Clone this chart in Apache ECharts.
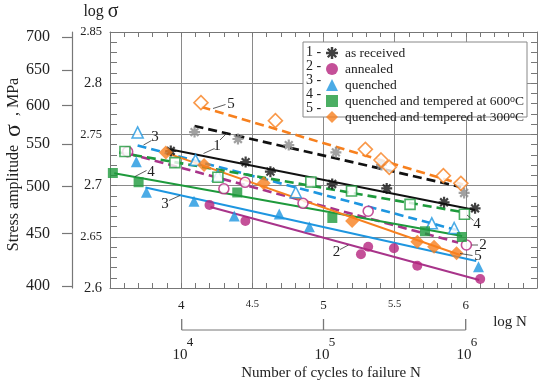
<!DOCTYPE html>
<html><head><meta charset="utf-8">
<script src="https://cdn.jsdelivr.net/npm/echarts@6/dist/echarts.min.js"></script>
<style>html,body{margin:0;padding:0;background:#fff}#c{width:550px;height:385px}</style>
</head><body><div id="c"></div>
<script>
// Data: [log N, log sigma]
const asReceivedFilled = [[3.927,2.7338],[4.453,2.7230],[4.627,2.7136],[5.061,2.7016],[5.444,2.6972],[5.847,2.6837],[6.065,2.6778]];
const asReceivedOpen = [[4.094,2.7523],[4.399,2.7455],[4.756,2.7396],[5.087,2.7325],[5.407,2.7201],[5.988,2.6928]];
const asReceivedSolidLine = [[3.918,2.7354],[6.065,2.6762]];
const asReceivedDashedLine = [[4.094,2.7582],[5.967,2.6986]];

const annealedFilled = [[4.199,2.6811],[4.451,2.6654],[5.263,2.6329],[5.314,2.6403],[5.495,2.6388],[5.659,2.6218],[6.101,2.6088]];
const annealedOpen = [[3.624,2.7331],[4.300,2.6969],[4.449,2.7032],[4.856,2.6827],[5.314,2.6750],[6.004,2.6420]];
const annealedSolidLine = [[4.206,2.6791],[6.094,2.6078]];
const annealedDashedLine = [[3.624,2.7315],[5.946,2.6444]];

const quenchedFilled = [[3.685,2.7233],[3.756,2.6935],[4.090,2.6847],[4.373,2.6703],[4.689,2.6723],[4.901,2.6599],[6.089,2.6208]];
const quenchedOpen = [[3.694,2.7519],[4.101,2.7250],[4.258,2.7099],[4.805,2.6935],[5.761,2.6632],[5.918,2.6586]];
const quenchedSolidLine = [[3.749,2.6981],[6.073,2.6264]];
const quenchedDashedLine = [[3.694,2.7392],[5.937,2.6566]];

const qt600Filled = [[3.520,2.7123],[3.701,2.7033],[4.394,2.6933],[5.062,2.6684],[5.713,2.6554],[5.972,2.6498]];
const qt600Open = [[3.605,2.7333],[3.956,2.7224],[4.258,2.7081],[4.911,2.7035],[5.197,2.6947],[5.608,2.6817],[5.990,2.6720]];
const qt600SolidLine = [[3.530,2.7120],[5.974,2.6508]];
const qt600DashedLine = [[3.565,2.7323],[5.974,2.6742]];

const qt300Filled = [[3.892,2.7323],[4.161,2.7201],[4.580,2.7022],[5.201,2.6654],[5.659,2.6452],[5.777,2.6403],[5.935,2.6339]];
const qt300Open = [[4.139,2.7810],[4.662,2.7634],[5.294,2.7354],[5.404,2.7250],[5.462,2.7179],[5.842,2.7097],[5.965,2.7022]];
const qt300SolidLine = [[3.906,2.7315],[5.960,2.6322]];
const qt300DashedLine = [[4.143,2.7768],[5.981,2.7010]];

const stressTicks = [400,450,500,550,600,650,700];
const logNTicks = [4,4.5,5,5.5,6];
const logSigmaTicks = [2.6,2.65,2.7,2.75,2.8,2.85];
const legendNames = ['as received','annealed','quenched','quenched and tempered at 600°C','quenched and tempered at 300°C'];

const SERIF = '"Liberation Serif","Times New Roman",serif';
function asteriskPath(){
  let d=''; const w=0.2;
  for (const a of [0,45,90,135]) {
    const r=a*Math.PI/180, c=Math.cos(r), s=Math.sin(r);
    const pts=[[-1,-w],[1,-w],[1,w],[-1,w]].map(([x,y])=>[x*c-y*s, x*s+y*c]);
    d+='M'+pts.map(p=>p[0].toFixed(3)+' '+p[1].toFixed(3)).join(' L')+' Z ';
  }
  return 'path://'+d;
}
const AST = asteriskPath();

const groups = [
  {filled: asReceivedFilled, open: asReceivedOpen, solid: asReceivedSolidLine, dashed: asReceivedDashedLine,
   color:'#111111', openColor:'#8a8a8a', line:'#111111', symbol: AST, size: 11, openAsFilled:true},
  {filled: annealedFilled, open: annealedOpen, solid: annealedSolidLine, dashed: annealedDashedLine,
   color:'#B5247E', line:'#A8348A', symbol:'circle', size: 10},
  {filled: quenchedFilled, open: quenchedOpen, solid: quenchedSolidLine, dashed: quenchedDashedLine,
   color:'#1E96E0', line:'#1E96E0', symbol:'triangle', size: 11},
  {filled: qt600Filled, open: qt600Open, solid: qt600SolidLine, dashed: qt600DashedLine,
   color:'#1E9A3C', line:'#1E9A3C', symbol:'rect', size: 10},
  {filled: qt300Filled, open: qt300Open, solid: qt300SolidLine, dashed: qt300DashedLine,
   color:'#F7801E', line:'#F7801E', symbol:'diamond', size: 14}
];

const series = [];
groups.forEach((g,i)=>{
  series.push({type:'line', name:'solid'+i, data:g.solid, symbol:'none', silent:true, clip:false, z:2,
    lineStyle:{color:g.line, width:2, type:'solid'}});
  series.push({type:'line', name:'dashed'+i, data:g.dashed, symbol:'none', silent:true, clip:false, z:2,
    lineStyle:{color:g.line, width:2.6, type:[9,5]}});
});
groups.forEach((g,i)=>{
  series.push({type:'scatter', name:'open'+i, data:g.open, symbol:g.symbol, symbolSize:g.size, clip:false, z:3,
    itemStyle: g.openAsFilled ? {color:g.openColor} : {color:'#ffffff', borderColor:g.color, borderWidth:1.6}});
  series.push({type:'scatter', name:legendNames[i], data:g.filled, symbol:g.symbol, symbolSize:g.size, clip:false, z:4,
    itemStyle:{color:g.color}});
});

const gray = '#777';
const xAxisBase = {type:'value', min:3.5, max:6.5, interval:0.5};
const yAxisBase = {type:'value', min:2.6, max:2.85, interval:0.05};

const option = {
  animation:false,
  backgroundColor:'#fff',
  grid:{left:110, top:32, width:427, height:256, containLabel:false, outerBoundsMode:'none'},
  xAxis:[
    Object.assign({}, xAxisBase, {position:'bottom',
      axisLine:{show:true, lineStyle:{color:gray, width:1}},
      axisTick:{show:true, inside:true, length:5, lineStyle:{color:gray}},
      minorTick:{show:true, splitNumber:5, length:5, lineStyle:{color:gray}},
      splitLine:{show:true, lineStyle:{color:'#8a8a8a', width:1}},
      axisLabel:{customValues:logNTicks, margin:11, color:'#222',
        formatter: v => Math.abs(v-Math.round(v))<1e-6 ? '{b|'+v.toFixed(0)+'}' : '{s|'+v.toFixed(1)+'}',
        rich:{b:{fontFamily:SERIF, fontSize:13, color:'#222'}, s:{fontFamily:SERIF, fontSize:10.5, color:'#222'}}}
    }),
    Object.assign({}, xAxisBase, {position:'top',
      axisLine:{show:true, lineStyle:{color:gray, width:1}},
      axisTick:{show:true, inside:true, length:5, lineStyle:{color:gray}},
      minorTick:{show:true, splitNumber:5, length:5, lineStyle:{color:gray}},
      splitLine:{show:false}, axisLabel:{show:false}})
  ],
  yAxis:[
    Object.assign({}, yAxisBase, {position:'left',
      axisLine:{show:true, lineStyle:{color:gray, width:1}},
      axisTick:{show:true, inside:true, length:7, lineStyle:{color:gray}},
      minorTick:{show:true, splitNumber:5, length:7, lineStyle:{color:gray}},
      splitLine:{show:true, lineStyle:{color:'#8a8a8a', width:1}},
      axisLabel:{customValues:logSigmaTicks, margin:8, color:'#222',
        formatter: v => Math.abs(v*10-Math.round(v*10))<1e-6 ? '{b|'+v.toFixed(1)+'}' : '{s|'+v.toFixed(2)+'}',
        rich:{b:{fontFamily:SERIF, fontSize:14.5, color:'#222'}, s:{fontFamily:SERIF, fontSize:12.5, color:'#222'}}}
    }),
    Object.assign({}, yAxisBase, {position:'right',
      axisLine:{show:true, lineStyle:{color:gray, width:1}},
      axisTick:{show:true, inside:true, length:6, lineStyle:{color:gray}},
      minorTick:{show:true, splitNumber:5, length:6, lineStyle:{color:gray}},
      splitLine:{show:false}, axisLabel:{show:false}}),
    Object.assign({}, yAxisBase, {position:'left', offset:38,
      axisLine:{show:true, lineStyle:{color:gray, width:1.2}},
      axisTick:{show:true, inside:false, length:10, customValues:stressTicks.map(v=>Math.log10(v)), lineStyle:{color:gray, width:1.2}},
      minorTick:{show:false}, splitLine:{show:false},
      axisLabel:{customValues:stressTicks.map(v=>Math.log10(v)), margin:22, color:'#222', fontFamily:SERIF, fontSize:16,
        formatter: v => String(Math.round(Math.pow(10,v)))}})
  ],
  legend:{
    data:legendNames, orient:'vertical', left:326, top:46, padding:0, itemGap:2, itemWidth:12, itemHeight:12,
    selectedMode:false, z:6,
    formatter: n => n.replace('°', '{sup|o}'),
    textStyle:{fontFamily:SERIF, fontSize:13.5, color:'#222', padding:[0,0,0,2],
      rich:{sup:{fontFamily:SERIF, fontSize:10, color:'#222', verticalAlign:'top', lineHeight:8}}}
  },
  graphic:[],
  series: series
};

const G = option.graphic;
function txt(x,y,text,size,extra){
  G.push(Object.assign({type:'text', x:x, y:y, z:10, style:{text:text, font:size+'px '+SERIF, fill:'#222',
    align:'center', verticalAlign:'middle', textAlign:'center', textVerticalAlign:'middle'}}, extra||{}));
}
function ln(x1,y1,x2,y2,w,c){
  G.push({type:'line', z:10, shape:{x1:x1,y1:y1,x2:x2,y2:y2}, style:{stroke:c||'#333', lineWidth:w||0.8}});
}
// legend box
G.push({type:'rect', z:1, shape:{x:303, y:42, width:224, height:75}, style:{fill:'#fff', stroke:'#888', lineWidth:1}});
['1 -','2 -','3 -','4 -','5 -'].forEach((t,i)=>{
  G.push({type:'text', x:306, y:52.5+i*14, z:10, style:{text:t, font:'14px '+SERIF, fill:'#222', align:'left', verticalAlign:'middle', textAlign:'left', textVerticalAlign:'middle'}});
});
// axis titles
G.push({type:'text', x:14, y:164.5, rotation:Math.PI/2, z:10, style:{
  text:'{a|Stress amplitude  }{s|σ}{a|  , MPa}', align:'center', verticalAlign:'middle', textAlign:'center', textVerticalAlign:'middle',
  rich:{a:{font:'16px '+SERIF, fill:'#222', color:'#222'}, s:{font:'24px '+SERIF, fill:'#222', color:'#222'}}}});
G.push({type:'text', x:101, y:12, z:10, style:{
  text:'{a|log }{s|σ}', align:'center', verticalAlign:'middle', textAlign:'center', textVerticalAlign:'middle',
  rich:{a:{font:'16px '+SERIF, fill:'#222', color:'#222'}, s:{font:'20px '+SERIF, fill:'#222', color:'#222'}}}});
txt(510,322,'log N',15);
txt(331,373,'Number of cycles to failure N',15);
// 10^n labels
[[180,'4'],[322,'5'],[464,'6']].forEach(([x,e])=>{ txt(x,355,'10',15); txt(x+10,342.5,e,13); });
// bracket
ln(181.7,330,465.7,330,1,'#777'); ln(181.7,319,181.7,330,1.3,'#777'); ln(323.5,319,323.5,330,1.3,'#777'); ln(465.7,319,465.7,330,1.3,'#777');
// curve annotations
const ann = [
  [231,104,'5',213,108.5,225.5,104.5],
  [217,146,'1',220,140,227.5,132.5],
  [155,137.5,'3',143.5,145,151.5,140.5],
  [151,172.5,'4',135,176.5,146.5,170.5],
  [165,204.5,'3',169,200.5,180,195.5],
  [336.5,252.5,'2',340,249.5,348.5,245],
  [477,224.5,'4',467,215,473.5,220.5],
  [483,245,'2',471.5,245,478,245],
  [478,256.5,'5',460,253.5,472.5,255.5]
];
ann.forEach(a=>{ txt(a[0],a[1],a[2],15); ln(a[3],a[4],a[5],a[6]); });
ln(203.5,153.5,214.5,148.5);

const chart = echarts.init(document.getElementById('c'), null, {renderer:'canvas'});
chart.setOption(option);
</script></body></html>
